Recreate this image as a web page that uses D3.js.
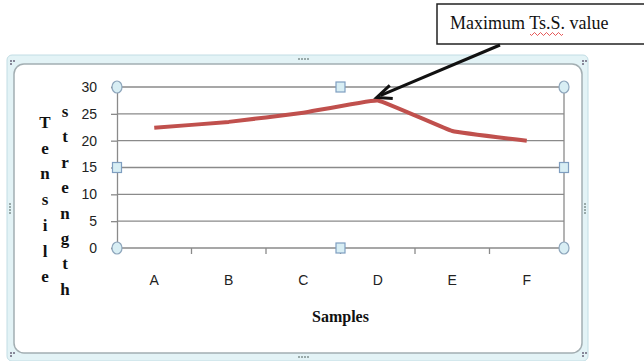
<!DOCTYPE html>
<html lang="en">
  <head>
    <meta charset="utf-8">
    <title>Tensile strength</title>
    <script src="https://d3js.org/d3.v7.min.js"></script>
    <style>
      body { margin: 0; background: #fff; }
      .yAxis text, .xAxis text { font: 14px "Liberation Sans", Arial, sans-serif; fill: #222; }
      .title { font: bold 16px "Liberation Serif", "Times New Roman", serif; fill: #111; }
    </style>
  </head>
  <body>
    <div id="chart"></div>
    <script>
      var samples = ["A", "B", "C", "D", "E", "F"];
      var strength = [22.4, 23.5, 25.2, 27.5, 21.8, 20.0];
      var yTicks = [0, 5, 10, 15, 20, 25, 30];
      var yTitle1 = "Tensile";
      var yTitle2 = "strength";
      var xTitle = "Samples";
      var note = "Maximum Ts.S. value";

      var w = 644, h = 361;
      var plot = {left: 117, right: 564, top: 87, bottom: 248};

      var svg = d3.select("#chart").append("svg")
                  .attr("width", w).attr("height", h);

      // chart object frame
      svg.append("rect").attr("x", 7).attr("y", 55).attr("width", 581).attr("height", 306)
         .attr("rx", 5).attr("fill", "#e3f3f6").attr("stroke", "#c2dde4");
      svg.append("rect").attr("x", 14).attr("y", 64).attr("width", 568).attr("height", 289)
         .attr("rx", 10).attr("fill", "#fff").attr("stroke", "#a3aeb2").attr("stroke-width", 1.5);

      // grip dots
      var dotsH = [[298, 58], [298, 356]];
      dotsH.forEach(function(p){
        for (var i = 0; i < 4; i++) svg.append("rect").attr("x", p[0] + i*3).attr("y", p[1])
            .attr("width", 2).attr("height", 2).attr("fill", "#9aa");
      });
      var dotsV = [[9, 203], [584, 203]];
      dotsV.forEach(function(p){
        for (var i = 0; i < 4; i++) svg.append("rect").attr("x", p[0]).attr("y", p[1] + i*3)
            .attr("width", 2).attr("height", 2).attr("fill", "#9aa");
      });
      [[10, 60], [582, 60], [10, 352], [582, 352]].forEach(function(p){
        [[0,0],[3,0],[0,3]].forEach(function(o){
          svg.append("rect").attr("x", p[0]+o[0]).attr("y", p[1]+o[1])
             .attr("width", 2).attr("height", 2).attr("fill", "#889");
        });
      });

      var x = d3.scaleBand().domain(samples).range([plot.left, plot.right]);
      var y = d3.scaleLinear().domain([0, 30]).range([plot.bottom, plot.top]);

      // gridlines
      svg.append("g").selectAll("line").data(yTicks).enter().append("line")
         .attr("x1", plot.left).attr("x2", plot.right)
         .attr("y1", d => y(d)).attr("y2", d => y(d))
         .attr("stroke", "#8a8a8a").attr("stroke-width", 1.3);
      svg.append("line").attr("x1", plot.right).attr("x2", plot.right)
         .attr("y1", plot.top).attr("y2", plot.bottom)
         .attr("stroke", "#8a8a8a").attr("stroke-width", 1.3);

      // y axis
      var yAxis = d3.axisLeft(y).tickValues(yTicks).tickSize(6).tickPadding(9);
      var gy = svg.append("g").attr("class", "yAxis")
                  .attr("transform", `translate(${plot.left},0)`).call(yAxis);
      gy.select(".domain").attr("stroke", "#8a8a8a").attr("stroke-width", 1.3);
      gy.selectAll(".tick line").attr("stroke", "#8a8a8a").attr("stroke-width", 1.3);
      gy.selectAll(".tick text").attr("dx", -5);

      // x axis: ticks between categories
      var gx = svg.append("g").attr("class", "xAxis")
                  .attr("transform", `translate(0,${plot.bottom})`)
                  .call(d3.axisBottom(x).tickSize(0).tickPadding(27));
      gx.select(".domain").remove();
      gx.append("g").selectAll("line").data(samples.slice(1)).enter().append("line")
        .attr("x1", d => x(d)).attr("x2", d => x(d)).attr("y1", 0).attr("y2", 6)
        .attr("stroke", "#8a8a8a").attr("stroke-width", 1.3);

      // data line
      var line = d3.line().x(d => x(d.s) + x.bandwidth()/2).y(d => y(d.v))
                   .curve(d3.curveCardinal.tension(0.75));
      svg.append("path").datum(samples.map((s, i) => ({s: s, v: strength[i]})))
         .attr("d", line).attr("fill", "none")
         .attr("stroke", "#c0504d").attr("stroke-width", 4).attr("stroke-linejoin", "round");

      // selection handles
      var midX = (plot.left + plot.right)/2, midY = (plot.top + plot.bottom)/2;
      [[plot.left, plot.top], [plot.right, plot.top], [plot.left, plot.bottom], [plot.right, plot.bottom]]
        .forEach(function(p){
          svg.append("ellipse").attr("cx", p[0]).attr("cy", p[1]).attr("rx", 5).attr("ry", 6)
             .attr("fill", "#d8eef4").attr("stroke", "#8ea6bc").attr("stroke-width", 1.2);
        });
      [[midX, plot.top], [midX, plot.bottom], [plot.left, midY], [plot.right, midY]]
        .forEach(function(p){
          svg.append("rect").attr("x", p[0]-4.5).attr("y", p[1]-5).attr("width", 9).attr("height", 10)
             .attr("fill", "#d8eef4").attr("stroke", "#7f9ec0").attr("stroke-width", 1.2);
        });

      // axis titles
      svg.append("text").attr("class", "title").attr("x", midX).attr("y", 322)
         .attr("text-anchor", "middle").text(xTitle);
      svg.append("g").selectAll("text").data(yTitle1.split("")).enter().append("text")
         .attr("class", "title").style("font-size", "17px")
         .attr("x", 45).attr("y", (d, i) => 128 + i*25.7).attr("text-anchor", "middle").text(d => d);
      svg.append("g").selectAll("text").data(yTitle2.split("")).enter().append("text")
         .attr("class", "title").style("font-size", "17px")
         .attr("x", 65).attr("y", (d, i) => 117 + i*25.4).attr("text-anchor", "middle").text(d => d);

      // annotation
      svg.append("rect").attr("x", 437).attr("y", 4).attr("width", 220).attr("height", 40)
         .attr("fill", "#fff").attr("stroke", "#222").attr("stroke-width", 1.5);
      svg.append("text").attr("x", 450).attr("y", 29)
         .style("font", "18px 'Liberation Serif', 'Times New Roman', serif").attr("fill", "#111")
         .text(note);
      var wave = "M530,34";
      for (var i = 0; i < 11; i++) wave += ` l1.5,${i % 2 ? -1.5 : 1.5} l1.5,${i % 2 ? 1.5 : -1.5}`;
      svg.append("path").attr("d", wave).attr("fill", "none").attr("stroke", "#e03030").attr("stroke-width", 0.8);

      var tip = [x("D") + x.bandwidth()/2 - 1, y(strength[3]) - 3];
      svg.append("line").attr("x1", 500).attr("y1", 45).attr("x2", tip[0] + 4).attr("y2", tip[1] - 2)
         .attr("stroke", "#111").attr("stroke-width", 3);
      svg.append("path")
         .attr("d", `M${tip[0]+13},${tip[1]-12} L${tip[0]},${tip[1]} L${tip[0]+16},${tip[1]+1}`)
         .attr("fill", "none").attr("stroke", "#111").attr("stroke-width", 3)
         .attr("stroke-linejoin", "miter");
    </script>
  </body>
</html>
